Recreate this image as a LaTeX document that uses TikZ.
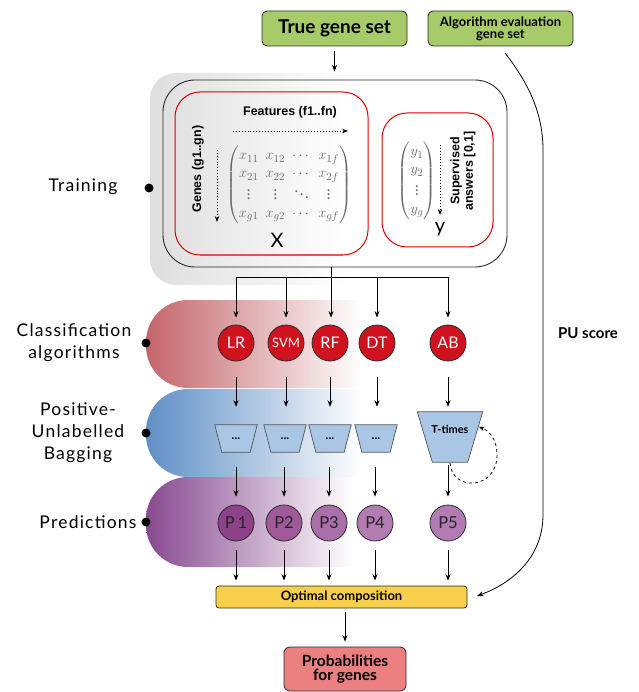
\documentclass[tikz,border=0pt]{standalone}
\usepackage{amsmath}
\usepackage{fontspec}
\setmainfont{Lato}
\newfontfamily\sidefont[LetterSpace=7]{Lato}
\newfontfamily\arialfont{Liberation Sans}
\usetikzlibrary{arrows.meta}

\definecolor{boxgreen}{HTML}{A8CB6A}
\definecolor{compyellow}{HTML}{F8CF4A}
\definecolor{probred}{HTML}{EC8080}
\definecolor{bandgray}{HTML}{DEDEDE}
\definecolor{bandred}{HTML}{C4656A}
\definecolor{bandblue}{HTML}{5F8FC6}
\definecolor{bandpurple}{HTML}{87498F}
\definecolor{algred}{HTML}{D0121E}
\definecolor{trapblue}{HTML}{A9C6E4}
\definecolor{pA}{HTML}{8F4289}
\definecolor{pB}{HTML}{A05A9B}
\definecolor{pC}{HTML}{AA6EA8}
\definecolor{pD}{HTML}{B27BB1}
\definecolor{matgray}{HTML}{6A6A6A}
\definecolor{edge}{HTML}{2A2A2A}

\tikzset{
  arr/.style={-{Stealth[length=6.5pt,width=5pt]}, line width=0.8pt},
  dotarr/.style={-{Stealth[length=6pt,width=4.5pt]}, line width=0.9pt, dotted},
  topbox/.style={draw=edge, line width=0.8pt, rounded corners=5pt, fill=boxgreen, align=center, font=\bfseries, inner sep=0pt},
  alg/.style={circle, draw=edge, line width=0.8pt, fill=algred, text=white, minimum size=36pt, inner sep=0pt, font=\fontsize{16}{16}\selectfont},
  pred/.style={circle, draw=edge, line width=0.8pt, text=black!85, minimum size=36pt, inner sep=0pt, font=\fontsize{16.5}{16}\selectfont},
  bagframe/.style={rectangle, inner sep=0pt, font=\bfseries},
  trapfill/.style={draw=edge!80, line width=0.7pt, fill=trapblue, line join=miter},
  sidelabel/.style={align=center, font=\sidefont\fontsize{17.5}{22}\selectfont},
  redbox/.style={draw=red!85!black, line width=1pt, rounded corners=25pt},
  dot/.style={circle, fill=black, minimum size=9pt, inner sep=0pt},
}

\begin{document}
\begin{tikzpicture}[x=1pt, y=-1pt]
\useasboundingbox (0,0) rectangle (638,692);

% ---- faded background bands for the four stages ----
\shade[left color=bandgray, right color=white]
  (345,73) [rounded corners=26pt] -- (150,73) -- (150,285) [sharp corners] -- (345,285) -- cycle;
\shade[left color=bandred, right color=white]
  (362,300) [rounded corners=42pt] -- (146,300) -- (146,388) [sharp corners] -- (362,388) -- cycle;
\shade[left color=bandblue, right color=white]
  (362,389) [rounded corners=42pt] -- (146,389) -- (146,477) [sharp corners] -- (362,477) -- cycle;
\shade[left color=bandpurple, right color=white]
  (352,477) [rounded corners=42pt] -- (146,477) -- (146,567) [sharp corners] -- (352,567) -- cycle;

% ---- stage labels and bullets ----
\node[dot] (d1) at (149,188) {};
\node[dot] (d2) at (146,343) {};
\node[dot] (d3) at (146,433) {};
\node[dot] (d4) at (146,522) {};
\node[sidelabel] (l1) at (83,187) {Training};
\node[sidelabel] (l2) at (74,343) {Classification\\algorithms};
\node[sidelabel] (l3) at (78,433) {Positive-\\Unlabelled\\Bagging};
\node[sidelabel] (l4) at (88,522) {Predictions};

% ---- input gene sets ----
\node[topbox, minimum width=145pt, minimum height=35pt, font=\bfseries\fontsize{19}{19}\selectfont] (truegs) at (334.5,28.5) {True gene set};
\node[topbox, minimum width=145pt, minimum height=35pt, font=\bfseries\fontsize{13}{12}\selectfont] (evalgs) at (500.5,28.5) {Algorithm evaluation\\gene set};

% ---- training data ----
\node[draw=edge, line width=0.9pt, rounded corners=32pt, minimum width=344pt, minimum height=187pt] (outer) at (335,173.5) {};
\node[redbox, minimum width=193pt, minimum height=163pt] (xbox) at (271.5,173.5) {};
\node[redbox, minimum width=111pt, minimum height=134pt] (ybox) at (437.5,180) {};

\node[font=\arialfont\bfseries\fontsize{12.5}{13}\selectfont] (feat) at (290,112) {Features (f1..fn)};
\coordinate (fa) at (233,131);
\coordinate (fb) at (348,131);
\draw[dotarr] (fa) -- (fb);
\node[rotate=90, font=\arialfont\bfseries\fontsize{12.5}{13}\selectfont] (genes) at (198,169) {Genes (g1..gn)};
\coordinate (ga) at (217,150);
\coordinate (gb) at (217,222);
\draw[dotarr] (ga) -- (gb);

\node[text=matgray, font=\fontsize{15.5}{18}\selectfont] (mat) at (289,185)
  {$\renewcommand{\arraystretch}{1.0}\setlength{\arraycolsep}{3.5pt}\begin{pmatrix}
    x_{11} & x_{12} & \cdots & x_{1f}\\
    x_{21} & x_{22} & \cdots & x_{2f}\\
    \vdots & \vdots & \ddots & \vdots\\
    x_{g1} & x_{g2} & \cdots & x_{gf}
  \end{pmatrix}$};
\node[font=\fontsize{20}{20}\selectfont] (xlab) at (277,240) {$\mathrm{X}$};

\node[text=matgray, font=\fontsize{15.5}{18}\selectfont] (vec) at (417,181)
  {$\renewcommand{\arraystretch}{1.0}\begin{pmatrix} y_1\\ y_2\\ \vdots\\ y_g \end{pmatrix}$};
\node[font=\fontsize{20}{20}\selectfont] (ylab) at (440,229) {$\mathrm{y}$};
\coordinate (ya) at (440,145);
\coordinate (yb) at (440,215);
\draw[dotarr] (ya) -- (yb);
\node[rotate=90, align=center, font=\arialfont\bfseries\fontsize{12.5}{13.5}\selectfont] (sup) at (463,171) {Supervised\\answers [0,1]};

% ---- classifiers ----
\node[alg] (LR)  at (236,343) {LR};
\node[alg, font=\fontsize{13}{13}\selectfont] (SVM) at (286,343) {SVM};
\node[alg] (RF)  at (330,343) {RF};
\node[alg] (DT)  at (377,343) {DT};
\node[alg] (AB)  at (448,343) {AB};

% ---- PU bagging: trapezoid frames, outlines drawn from their anchors ----
\foreach \n/\x in {b1/236,b2/285,b3/330,b4/376}{
  \node[bagframe, minimum width=42pt, minimum height=27pt] (\n) at (\x,438.5) {};
  \draw[trapfill] (\n.north west) -- (\n.north east) -- ([xshift=-7pt]\n.south east)
    -- ([xshift=7pt]\n.south west) -- cycle;
  \node[font=\bfseries\fontsize{12}{12}\selectfont] at (\n) {...};
}
\node[bagframe, minimum width=65pt, minimum height=50pt] (b5) at (450,437) {};
\draw[trapfill] (b5.north west) -- (b5.north east) -- ([xshift=-15pt]b5.south east)
  -- ([xshift=15pt]b5.south west) -- cycle;
\node[font=\bfseries\fontsize{11}{11}\selectfont] (tt) at (450,429) {T-times};

% ---- predictions ----
\node[pred, fill=pA] (P1) at (236,523) {P\,1};
\node[pred, fill=pB] (P2) at (284,523) {P2};
\node[pred, fill=pC] (P3) at (329,523) {P3};
\node[pred, fill=pD] (P4) at (375,523) {P4};
\node[pred, fill=pD] (P5) at (448,523) {P5};

% ---- composition and result ----
\node[draw=edge, line width=0.8pt, rounded corners=3pt, fill=compyellow, minimum width=251pt, minimum height=22pt, inner sep=0pt, font=\bfseries\fontsize{13}{13}\selectfont] (comp) at (341.5,597) {Optimal composition};
\node[draw=edge, line width=0.8pt, rounded corners=6pt, fill=probred, minimum width=122pt, minimum height=44pt, inner sep=0pt, align=center, font=\bfseries\fontsize{15.5}{14.5}\selectfont] (prob) at (345,669) {Probabilities\\for genes};
\node[font=\bfseries\fontsize{15}{15}\selectfont] (pu) at (588,333) {PU score};

% ---- connectors ----
\draw[arr, shorten <=5pt, shorten >=8pt] (truegs) -- (truegs |- outer.north);

\coordinate (bus) at (331,277);
\draw[line width=0.8pt] (outer.south -| bus) -- (bus);
\draw[line width=0.8pt] (LR |- bus) -- (AB |- bus);
\foreach \c in {LR,SVM,AB,DT} \draw[arr, shorten >=7pt] (\c |- bus) -- (\c.north);
\draw[arr, shorten >=7pt] (bus) -- (bus |- RF.north);

\foreach \a/\b in {LR/b1,SVM/b2,RF/b3,DT/b4}
  \draw[arr, shorten <=16pt, shorten >=18pt] (\a.south) -- (\a.south |- \b.north);
\draw[arr, shorten <=16pt, shorten >=5pt] (AB.south) -- (AB.south |- b5.north);

\foreach \a/\b in {b1/P1,b2/P2,b3/P3,b4/P4}
  \draw[arr, shorten <=15pt, shorten >=8pt] (\b |- \a.south) -- (\b.north);
\draw[arr, shorten <=3pt, shorten >=8pt] (b5.south -| P5) -- (P5.north);

\foreach \p in {P1,P2,P3,P4,P5}
  \draw[arr, shorten <=9pt, shorten >=5pt] (\p.south) -- (\p |- comp.north);
\draw[arr, shorten <=4pt, shorten >=5pt] (comp.south -| prob) -- (prob.north);

% T-times repeat loop
\coordinate (loopa) at (450,463);
\coordinate (loopb) at (479,427);
\draw[-{Stealth[length=5.5pt,width=4.5pt]}, line width=0.8pt, dashed]
  (loopa) .. controls (452,492) and (497,490) .. (497,455)
          .. controls (497,440) and (490,431) .. (loopb);

% PU score feedback from the evaluation set
\coordinate (pus) at (505,53);
\coordinate (pue) at (477,596);
\draw[-{Stealth[length=6.5pt,width=5pt]}, line width=0.8pt]
  (pus) .. controls (530,85) and (543,115) .. (543,150) -- (543,515)
        .. controls (543,555) and (515,582) .. (pue);
\end{tikzpicture}
\end{document}
